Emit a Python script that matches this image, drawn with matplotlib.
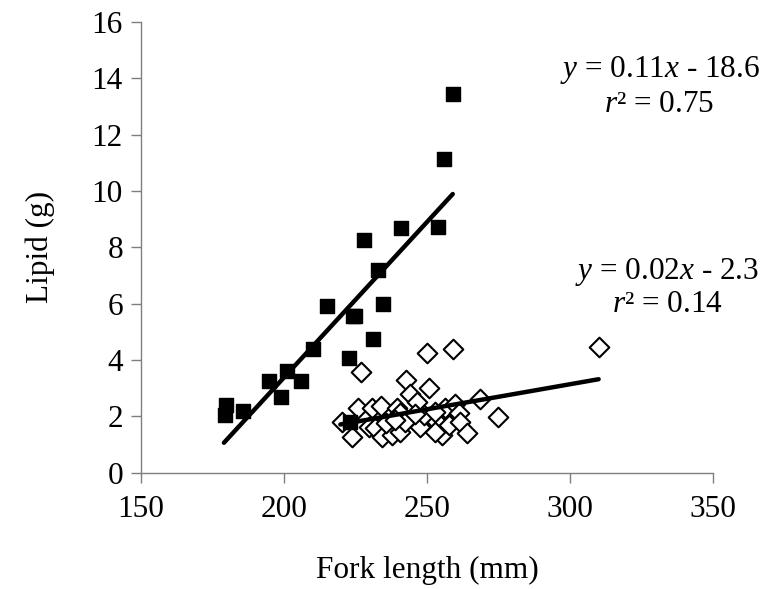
import matplotlib
matplotlib.use("Agg")
import matplotlib.pyplot as plt
import numpy as np

plt.rcParams['font.family'] = ['Liberation Serif', 'DejaVu Serif']
plt.rcParams['mathtext.fontset'] = 'custom'
plt.rcParams['mathtext.rm'] = 'Liberation Serif'
plt.rcParams['mathtext.it'] = 'Liberation Serif:italic'

# Filled squares
sq_x = [179.7, 179.5, 185.8, 194.9, 198.9, 201.0, 205.8, 210.3, 215.0, 224.3,
        225.0, 222.9, 223.2, 227.8, 231.0, 232.8, 234.7, 240.9, 254.0, 255.9, 259.0]
sq_y = [2.40, 2.05, 2.20, 3.26, 2.70, 3.62, 3.26, 4.40, 5.92, 5.58,
        5.55, 4.07, 1.79, 8.26, 4.75, 7.18, 6.00, 8.67, 8.73, 11.13, 13.45]

# Open diamonds
di_x = [250.0, 259.0, 310.0, 226.9, 242.8, 250.8, 244.2, 246.5, 268.7, 274.9,
        225.8, 230.7, 234.0, 239.5, 240.4, 256.4, 259.9, 261.1, 220.2, 223.7,
        229.6, 231.9, 234.2, 237.7, 240.7, 235.7, 242.4, 247.7, 252.9, 255.3,
        252.9, 257.6, 261.7, 264.0, 238.9, 248.8, 252.9, 245.9]
di_y = [4.24, 4.38, 4.45, 3.57, 3.29, 3.02, 2.78, 2.52, 2.62, 1.97,
        2.29, 2.29, 2.38, 2.29, 2.11, 2.29, 2.43, 2.11, 1.79, 1.28,
        1.63, 1.58, 1.28, 1.34, 1.46, 1.75, 1.81, 1.63, 1.87, 1.34,
        1.46, 1.69, 1.81, 1.40, 1.87, 2.05, 2.17, 2.07]

# Trendlines (slope, intercept)
sq_fit = (0.1104, -18.70)
di_fit = (0.0178, -2.20)

fs = 22.5

fig = plt.figure(figsize=(7.78, 5.89), dpi=100)
ax = fig.add_axes([0.1812, 0.1975, 0.7353, 0.7651])

ax.scatter(di_x, di_y, marker='D', s=100, facecolors='white', edgecolors='black',
           linewidths=1.5, zorder=2)
ax.scatter(sq_x, sq_y, marker='s', s=115, color='black', zorder=3)

for xs, (m, b) in [(sq_x, sq_fit), (di_x, di_fit)]:
    lx = np.array([min(xs) - 0.5, max(xs)])
    ax.plot(lx, m * lx + b, color='black', lw=3.2, solid_capstyle='round', zorder=4)

ax.set_xlim(150, 350)
ax.set_ylim(0, 16)
ax.set_xticks([150, 200, 250, 300, 350])
ax.set_yticks(range(0, 17, 2))

for s in ['top', 'right']:
    ax.spines[s].set_visible(False)
for s in ['left', 'bottom']:
    ax.spines[s].set_color('#7f7f7f')
    ax.spines[s].set_linewidth(1.0)
ax.tick_params(direction='out', length=7, width=1.0, color='#7f7f7f',
               labelsize=fs, pad=6)
ax.tick_params(axis='x', pad=9)

ax.set_xlabel('Fork length (mm)', fontsize=fs)
ax.set_ylabel('Lipid (g)', fontsize=fs)
ax.xaxis.set_label_coords(0.5, -0.185)
ax.yaxis.set_label_coords(-0.150, 0.5)

fig.text(660 / 778, 1 - 70 / 589, '$y$ = 0.11$x$ - 18.6', fontsize=fs,
         ha='center', va='center')
fig.text(659 / 778, 1 - 104 / 589, '$r$² = 0.75', fontsize=fs,
         ha='center', va='center')
fig.text(667 / 778, 1 - 272 / 589, '$y$ = 0.02$x$ - 2.3', fontsize=fs,
         ha='center', va='center')
fig.text(667 / 778, 1 - 305 / 589, '$r$² = 0.14', fontsize=fs,
         ha='center', va='center')

fig.savefig('out.png', dpi=100)
